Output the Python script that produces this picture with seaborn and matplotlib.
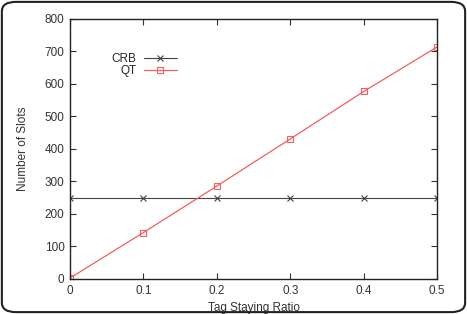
import pandas as pd
import matplotlib
matplotlib.use('Agg')
import matplotlib.pyplot as plt
from matplotlib.patches import FancyBboxPatch
import seaborn as sns

# Data
ratio = [0, 0.1, 0.2, 0.3, 0.4, 0.5]
crb_slots = [250, 250, 250, 250, 250, 250]
qt_slots = [3, 143, 286, 431, 577, 714]

df = pd.DataFrame({
    'ratio': ratio * 2,
    'slots': crb_slots + qt_slots,
    'method': ['CRB'] * len(ratio) + ['QT'] * len(ratio),
})

sns.set_style('white')
plt.rcParams['font.family'] = ['Liberation Sans', 'DejaVu Sans']

fig = plt.figure(figsize=(4.67, 3.14), dpi=100)
ax = fig.add_axes([0.150, 0.1115, 0.786, 0.828])

sns.lineplot(data=df[df.method == 'CRB'], x='ratio', y='slots', ax=ax,
             color='#444444', lw=0.8, marker='x', markersize=4,
             markeredgecolor='#444444', markeredgewidth=0.8, label='CRB')
sns.lineplot(data=df[df.method == 'QT'], x='ratio', y='slots', ax=ax,
             color='#f06060', lw=0.9, marker='s', markersize=5,
             markerfacecolor='none', markeredgecolor='#f06060',
             markeredgewidth=0.8, label='QT')

ax.set_xlim(0, 0.5)
ax.set_ylim(0, 800)
ax.set_xticks(ratio)
ax.set_xticklabels(['0', '0.1', '0.2', '0.3', '0.4', '0.5'])
ax.set_yticks(range(0, 801, 100))
ax.tick_params(direction='in', length=4, width=0.8, labelsize=8.5,
               top=True, right=True, bottom=True, left=True, colors='#333333',
               pad=4)
for s in ax.spines.values():
    s.set_color('#222222')
    s.set_linewidth(1.0)
ax.set_xlabel('Tag Staying Ratio', fontsize=8.5, color='#333333', labelpad=4)
ax.set_ylabel('Number of Slots', fontsize=8.5, color='#333333', labelpad=11)

ax.legend(loc='upper left', bbox_to_anchor=(0.097, 0.893), frameon=False,
          markerfirst=False, fontsize=8.5, handlelength=2.8, handletextpad=0.6,
          labelspacing=0.0, borderpad=0)

border = FancyBboxPatch((0.004, 0.006), 0.992, 0.988,
                        boxstyle='round,pad=0,rounding_size=0.03',
                        transform=fig.transFigure, fill=False,
                        ec='#222222', lw=1.5)
fig.patches.append(border)

fig.savefig('out.png', dpi=100)
